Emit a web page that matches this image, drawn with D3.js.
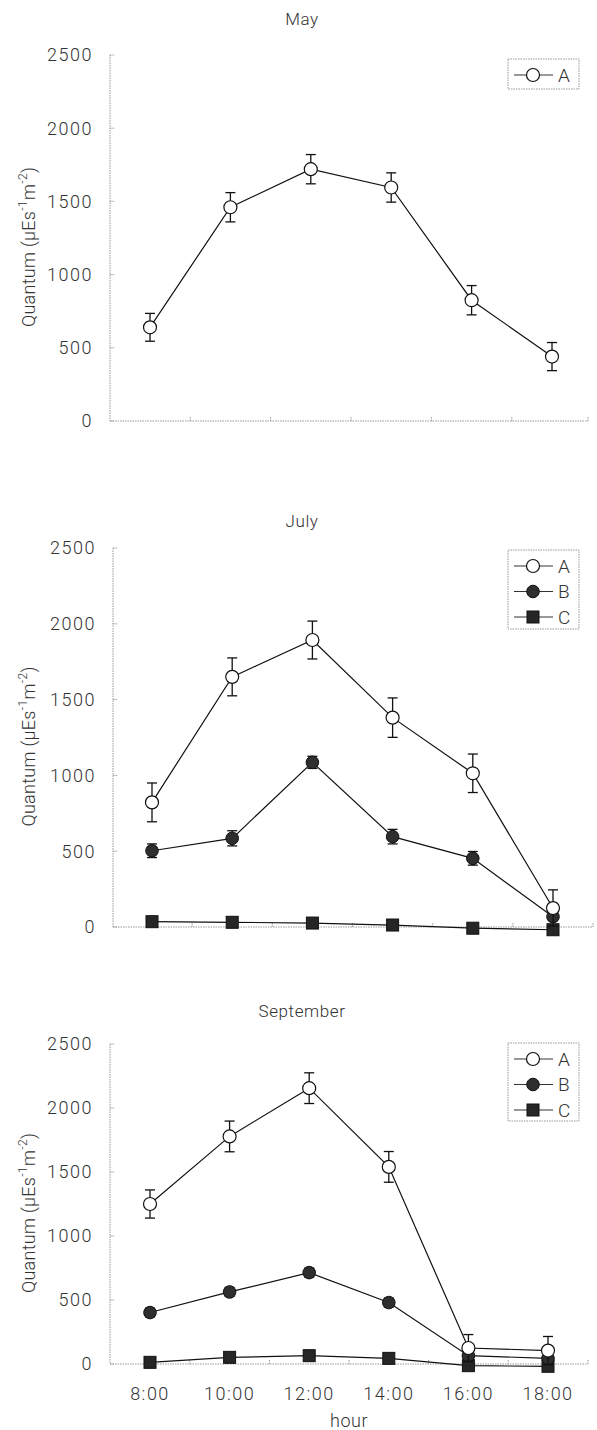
<!DOCTYPE html>
<html>
<head>
<meta charset="utf-8">
<script src="https://cdn.jsdelivr.net/npm/d3@7"></script>
<style>
  body { margin: 0; background: #fff; }
  svg { display: block; font-family: Roboto, Arial, "Liberation Sans", sans-serif; font-weight: 300; }
  .tick-label { font-size: 18px; fill: #333; letter-spacing: 1.5px; }
  .title { font-size: 17px; fill: #333; letter-spacing: 0.6px; }
  .axis-line { stroke: #999; stroke-width: 1; stroke-dasharray: 1.5,1; fill: none; }
  .series-line { stroke: #111; stroke-width: 1.2; fill: none; }
  .err { stroke: #111; stroke-width: 1.3; }
</style>
</head>
<body>
<svg id="chart" width="597" height="1430"></svg>
<script>
// data
var hours = ["8:00", "10:00", "12:00", "14:00", "16:00", "18:00"];
var yTicks = [0, 500, 1000, 1500, 2000, 2500];
var seriesNames = ["A", "B", "C"];

var mayA    = [640, 1460, 1720, 1595, 825, 440];
var mayAErr = [95, 100, 100, 100, 100, 96];

var julyA    = [822, 1650, 1893, 1381, 1014, 125];
var julyAErr = [128, 125, 125, 130, 127, 120];
var julyB    = [503, 585, 1086, 596, 453, 68];
var julyBErr = [45, 50, 40, 48, 45, 0];
var julyC    = [35, 31, 26, 13, -8, -18];

var sepA    = [1250, 1778, 2155, 1540, 125, 105];
var sepAErr = [110, 120, 120, 120, 105, 110];
var sepB    = [402, 563, 714, 480, 65, 44];
var sepBErr = [35, 35, 35, 35, 0, 0];
var sepC    = [13, 52, 65, 44, -13, -18];

// panel layout (pixels)
var panels = [
  { title: "May", titleY: 25, y0: 421, yTop: 55, left: 110, right: 588, px: [150, 552],
    series: [{ name: "A", values: mayA, err: mayAErr }],
    legend: { x: 508, y: 59, w: 71, h: 30 } },
  { title: "July", titleY: 527, y0: 927, yTop: 548, left: 113, right: 593, px: [152, 553],
    series: [{ name: "A", values: julyA, err: julyAErr },
             { name: "B", values: julyB, err: julyBErr },
             { name: "C", values: julyC, err: null }],
    legend: { x: 508, y: 550, w: 71, h: 79 } },
  { title: "September", titleY: 1017, y0: 1364, yTop: 1044, left: 110, right: 588, px: [150, 548],
    series: [{ name: "A", values: sepA, err: sepAErr },
             { name: "B", values: sepB, err: sepBErr },
             { name: "C", values: sepC, err: null }],
    legend: { x: 508, y: 1043, w: 71, h: 78 } }
];

var svg = d3.select("#chart");

function drawMarker(g, name, x, y) {
  if (name === "A") {
    g.append("circle").attr("cx", x).attr("cy", y).attr("r", 6.5)
      .attr("fill", "#fff").attr("stroke", "#111").attr("stroke-width", 1.2);
  } else if (name === "B") {
    g.append("circle").attr("cx", x).attr("cy", y).attr("r", 6.3)
      .attr("fill", "#2e2e2e").attr("stroke", "#111").attr("stroke-width", 1);
  } else {
    g.append("rect").attr("x", x - 6).attr("y", y - 6).attr("width", 12).attr("height", 12)
      .attr("fill", "#262626").attr("stroke", "#111").attr("stroke-width", 1);
  }
}

panels.forEach(function(p) {
  var g = svg.append("g");
  var x = d3.scalePoint().domain(hours).range(p.px);
  var y = d3.scaleLinear().domain([0, 2500]).range([p.y0, p.yTop]);
  var step = x.step();

  g.append("text").attr("class", "title")
    .attr("x", 302).attr("y", p.titleY).attr("text-anchor", "middle").text(p.title);

  // left axis
  g.append("line").attr("class", "axis-line")
    .attr("x1", p.left).attr("x2", p.left).attr("y1", y(2500)).attr("y2", y(0));
  g.selectAll(".ytick").data(yTicks).enter().append("line").attr("class", "axis-line")
    .attr("x1", p.left).attr("x2", p.left + 4)
    .attr("y1", function(d) { return y(d); }).attr("y2", function(d) { return y(d); });
  g.selectAll(".ylab").data(yTicks).enter().append("text").attr("class", "tick-label")
    .attr("x", p.left - 17).attr("y", function(d) { return y(d); }).attr("dy", "0.36em")
    .attr("text-anchor", "end").text(function(d) { return d; });

  // bottom axis
  g.append("line").attr("class", "axis-line")
    .attr("x1", p.left).attr("x2", p.right).attr("y1", y(0)).attr("y2", y(0));
  var bounds = hours.slice(1).map(function(h) { return x(h) - step / 2; });
  bounds.push(p.right);
  g.selectAll(".xtick").data(bounds).enter().append("line").attr("class", "axis-line")
    .attr("x1", function(d) { return d; }).attr("x2", function(d) { return d; })
    .attr("y1", y(0)).attr("y2", y(0) - 4);

  // y label
  var yl = g.append("text").attr("class", "title")
    .attr("transform", "translate(35," + ((y(0) + y(2500)) / 2 + 9) + ") rotate(-90)")
    .attr("text-anchor", "middle").style("font-size", "18px").style("letter-spacing", "0.3px");
  yl.append("tspan").text("Quantum (μEs");
  yl.append("tspan").attr("dy", -8).style("font-size", "12px").text("-1");
  yl.append("tspan").attr("dy", 8).text("m");
  yl.append("tspan").attr("dy", -8).style("font-size", "12px").text("-2");
  yl.append("tspan").attr("dy", 8).text(")");

  // series: lines, error bars, markers (draw C first so A sits on top)
  var line = d3.line().x(function(d, i) { return x(hours[i]); }).y(function(d) { return y(d); });
  p.series.slice().reverse().forEach(function(s) {
    g.append("path").attr("class", "series-line").attr("d", line(s.values));
  });
  p.series.slice().reverse().forEach(function(s) {
    s.values.forEach(function(v, i) {
      var cx = x(hours[i]);
      if (s.err && s.err[i] > 0) {
        var e = s.err[i];
        g.append("line").attr("class", "err").attr("x1", cx).attr("x2", cx)
          .attr("y1", y(v + e)).attr("y2", y(v - e));
        [v + e, v - e].forEach(function(ev) {
          g.append("line").attr("class", "err").attr("x1", cx - 5).attr("x2", cx + 5)
            .attr("y1", y(ev)).attr("y2", y(ev));
        });
      }
      drawMarker(g, s.name, cx, y(v));
    });
  });

  // legend
  var L = p.legend;
  g.append("rect").attr("x", L.x).attr("y", L.y).attr("width", L.w).attr("height", L.h)
    .attr("fill", "#fff").attr("stroke", "#999").attr("stroke-dasharray", "1.5,1");
  p.series.forEach(function(s, i) {
    var ry = L.y + 16 + i * 25.5;
    g.append("line").attr("x1", L.x + 6).attr("x2", L.x + 45).attr("y1", ry).attr("y2", ry)
      .attr("stroke", "#333").attr("stroke-width", 1.2);
    drawMarker(g, s.name, L.x + 25, ry);
    g.append("text").attr("class", "tick-label").attr("x", L.x + 50).attr("y", ry)
      .attr("dy", "0.36em").style("letter-spacing", "0").style("font-size", "19px").text(s.name);
  });
});

// x tick labels and x title on the last panel only
var last = panels[panels.length - 1];
var xb = d3.scalePoint().domain(hours).range(last.px);
svg.selectAll(".xlab").data(hours).enter().append("text").attr("class", "tick-label")
  .attr("x", function(d) { return xb(d); }).attr("y", 1400).attr("text-anchor", "middle")
  .text(function(d) { return d; });
svg.append("text").attr("class", "tick-label").attr("x", 349).attr("y", 1427)
  .attr("text-anchor", "middle").style("letter-spacing", "0.5px").text("hour");
</script>
</body>
</html>
